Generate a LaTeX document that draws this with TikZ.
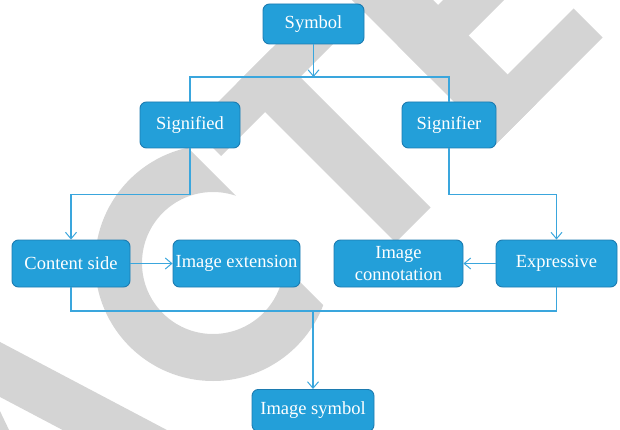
\documentclass[tikz,border=0pt]{standalone}
\usepackage{fontspec}
\setmainfont{Liberation Serif}
\usetikzlibrary{arrows.meta}
\definecolor{boxfill}{HTML}{239FD9}
\definecolor{boxedge}{HTML}{1C7BB0}
\definecolor{wirecol}{HTML}{3AA6DD}
\definecolor{markgray}{HTML}{D4D4D4}
\begin{document}
\begin{tikzpicture}[x=1pt,y=-1pt,
  box/.style={draw=boxedge, fill=boxfill, line width=0.9pt, rounded corners=6.5pt,
    text=white, font=\fontsize{18.5}{21.5}\selectfont, align=center, inner sep=0pt},
  wire/.style={draw=wirecol, line width=1.1pt},
  tip/.style={-{Straight Barb[length=6.5pt,width=11pt,line width=1pt]}}]
\useasboundingbox (0,0) rectangle (620,430);
\begin{scope}
\clip (0,0) rectangle (620,430);
% background lettering, turned 45 degrees
\fill[markgray] (-10,336.7) -- (180,436.9) -- (75.9,437) -- (-10,391.7) -- cycle;
\fill[markgray] (-1,409) -- (10,432) -- (-1,432) -- cycle;
\begin{scope}
  \clip (-100,300) -- (120,80) -- (257,217) -- (246,228) -- (389,371) -- (180,580) -- cycle;
  \fill[markgray, even odd rule] (213,263) circle[radius=118] (213,263) circle[radius=71];
\end{scope}
\begin{scope}[x={(0.5pt,0.5pt)}, y={(0.5pt,-0.5pt)}]
  % T
  \fill[markgray] (65,320) -- (311,320) -- (311,377) -- (65,377) -- cycle;
  \fill[markgray] (153,320) -- (223,320) -- (223,638) -- (153,638) -- cycle;
  % E
  \fill[markgray] (352,320) -- (433,320) -- (433,640) -- (352,640) -- cycle;
  \fill[markgray] (352,320) -- (560,320) -- (560,378) -- (352,378) -- cycle;
  \fill[markgray] (352,443) -- (540,443) -- (540,504) -- (352,504) -- cycle;
  \fill[markgray] (352,582) -- (565,582) -- (565,640) -- (352,640) -- cycle;
\end{scope}

% boxes
\node[box, minimum width=101pt, minimum height=40pt] (sym) at (313.5,24) {Symbol};
\node[box, minimum width=100pt, minimum height=46pt] (sd) at (190,125) {Signified};
\node[box, minimum width=94pt, minimum height=46pt] (sr) at (449,125) {Signifier};
\node[box, minimum width=118pt, minimum height=47pt] (cs) at (71,263.5) {Content side};
\node[box, minimum width=127pt, minimum height=47pt] (ie) at (236.5,263.5) {Image extension};
\node[box, minimum width=129pt, minimum height=47pt] (ic) at (398.5,263.5) {Image\\connotation};
\node[box, minimum width=121pt, minimum height=47pt] (ex) at (556.5,263.5) {Expressive};
\node[box, minimum width=122pt, minimum height=42pt, anchor=north] (is) at (313,389) {Image symbol};

% connectors
\coordinate (split) at (313.5,77);
\coordinate (merge) at (313,311);
\draw[wire, tip] (sym.south) -- (split);
\draw[wire] (sd.north) |- (split) -| (sr.north);
\draw[wire, tip] (sd.south) -- ++(0,46) -| (cs.north);
\draw[wire, tip] (sr.south) -- ++(0,46) -| (ex.north);
\draw[wire, tip] (cs) -- (ie);
\draw[wire, tip] (ex) -- (ic);
\draw[wire] (cs.south) |- (merge) -| (ex.south);
\draw[wire, tip] (merge) -- (is.north);
\end{scope}
\end{tikzpicture}
\end{document}
